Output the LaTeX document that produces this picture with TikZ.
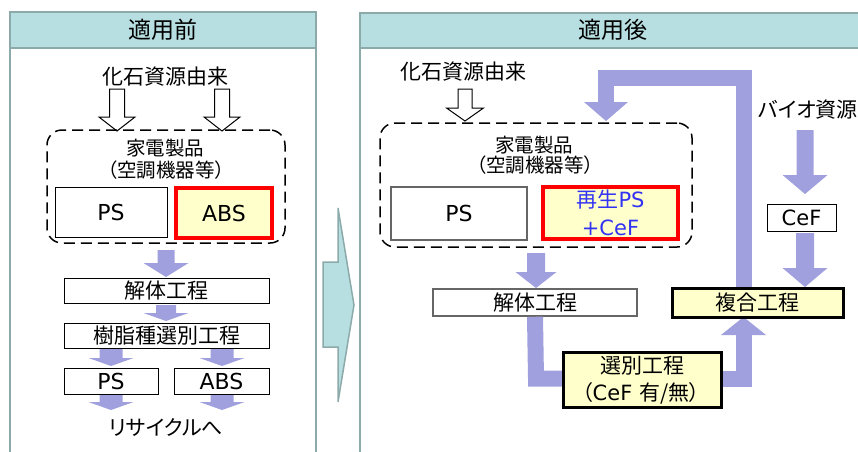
\documentclass[tikz,border=0pt]{standalone}
\usepackage{fontspec}
\setmainfont{DejaVu Sans}
\newfontfamily\jp[RawFeature={+palt}]{Noto Sans CJK JP}
\definecolor{hdr}{RGB}{183,222,224}
\definecolor{hdrline}{RGB}{140,170,170}
\definecolor{lav}{RGB}{160,160,222}
\definecolor{lyel}{RGB}{255,255,204}
\definecolor{txtblue}{RGB}{50,50,245}
\newcommand\blkarrow[7]{% style, x, ytop, ybase, ytip, halfshaft, halfhead
  \filldraw[#1] ({#2-#6},#3) -- ({#2+#6},#3) -- ({#2+#6},#4) -- ({#2+#7},#4) -- (#2,#5) -- ({#2-#7},#4) -- ({#2-#6},#4) -- cycle;}
\tikzset{
  jt/.style={font=\jp\fontsize{21}{24}\selectfont, inner sep=0pt},
  js/.style={font=\jp\fontsize{19.5}{22}\selectfont, inner sep=0pt},
  jh/.style={font=\jp\fontsize{23}{26}\selectfont, inner sep=0pt},
  lt/.style={font=\fontsize{21}{24}\selectfont, inner sep=0pt},
  plainbox/.style={draw=black, line width=1pt, fill=white, inner sep=0pt},
  graybox/.style={draw=black!60, line width=1.5pt, fill=white, inner sep=0pt},
  redbox/.style={draw=red, line width=3.5pt, fill=lyel, inner sep=0pt},
  thickbox/.style={draw=black, line width=3pt, fill=lyel, inner sep=0pt},
  dashbox/.style={draw=black, line width=1.5pt, dash pattern=on 11pt off 6pt, rounded corners=15pt, inner sep=0pt},
  panel/.style={draw=hdrline, line width=2.5pt, fill=white},
  hdrbox/.style={draw=hdrline, line width=2.5pt, fill=hdr},
  lavline/.style={draw=lav, line width=16pt, line join=miter},
  lavfill/.style={fill=lav, draw=none},
  hollow/.style={fill=white, draw=black, line width=1pt},
}
\begin{document}
\begin{tikzpicture}[x=1pt,y=-1pt]
\useasboundingbox (0,0) rectangle (858,451);
\clip (0,0) rectangle (858,451);

% ---------- panels ----------
\draw[panel] (10,12) rectangle (316,475);
\draw[hdrbox] (10,12) rectangle (316,48);
\node[jh] (hL) at (163,30) {適用前};
\draw[panel] (360,13) rectangle (880,475);
\draw[hdrbox] (360,13) rectangle (880,48);
\node[jh] (hR) at (613,30) {適用後};

% middle transition arrow
\filldraw[fill=hdr, draw=hdrline, line width=1.5pt]
  (323,262) -- (338,262) -- (338,208) -- (354,305) -- (338,402) -- (338,347) -- (323,347) -- cycle;

% ---------- left panel ----------
\node[jt] (fossL) at (165,77) {化石資源由来};
\blkarrow{hollow}{117}{89}{117}{131}{7.5}{18}
\blkarrow{hollow}{222}{89}{117}{131}{7.5}{18}
\node[dashbox, minimum width=238pt, minimum height=113pt] (dashL) at (166,186.5) {};
\node[js] (kadenL) at (165,148) {家電製品};
\node[js] (kuchoL) at (166,170) {（空調機器等）};
\node[plainbox, minimum width=112pt, minimum height=50pt, font=\fontsize{22}{24}\selectfont] (psL) at (111,212) {PS};
\node[redbox, minimum width=96pt, minimum height=50pt, font=\fontsize{22}{24}\selectfont] (absL) at (224,213) {ABS};

\blkarrow{lavfill}{166}{250}{263}{277}{8.5}{22.5}
\node[plainbox, minimum width=205pt, minimum height=25pt, jt] (kaitaiL) at (166.5,290.5) {解体工程};
\blkarrow{lavfill}{166}{305}{313}{321}{10}{22.5}
\node[plainbox, minimum width=205pt, minimum height=25pt, jt] (jushiL) at (166.5,335.5) {樹脂種選別工程};
\blkarrow{lavfill}{111}{349}{358}{366}{11.5}{22.5}
\blkarrow{lavfill}{222}{349}{358}{366}{11.5}{22.5}
\node[plainbox, minimum width=94pt, minimum height=26pt, font=\fontsize{22}{24}\selectfont] (psL2) at (111,381) {PS};
\node[plainbox, minimum width=95pt, minimum height=26pt, font=\fontsize{22}{24}\selectfont] (absL2) at (221.5,381) {ABS};
\blkarrow{lavfill}{111}{395}{402}{410}{11.5}{22.5}
\blkarrow{lavfill}{222}{395}{402}{410}{11.5}{22.5}
\node[jt] (recyc) at (166,427) {リサイクルへ};

% ---------- right panel ----------
\node[jt] (fossR) at (463,72) {化石資源由来};
\blkarrow{hollow}{465}{89}{108}{121}{7}{18.5}

% loop arrow from 複合工程 back to 家電製品
\coordinate (loopin) at (606,103);
\draw[lavline] (744,289) -- (744,78) -- (606,78) -- (loopin);
\fill[lav] (584,102) -- (628,102) -- (606,121) -- cycle;

\node[dashbox, minimum width=312pt, minimum height=124pt] (dashR) at (536,185) {};
\node[js] (kadenR) at (534,145) {家電製品};
\node[js] (kuchoR) at (535,165) {（空調機器等）};
\node[graybox, minimum width=136pt, minimum height=53pt, font=\fontsize{22}{24}\selectfont] (psR) at (459,213.5) {PS};
\node[redbox, minimum width=135pt, minimum height=52pt] (saisei) at (610.5,213) {};
\node[inner sep=0pt, text=txtblue, font=\fontsize{21}{24}\selectfont] (sai1) at (610.5,200) {{\jp 再生}PS};
\node[inner sep=0pt, text=txtblue, font=\fontsize{21}{24}\selectfont] (sai2) at (610.5,228) {+CeF};

\node[jt] (bio) at (808,110) {バイオ資源};
\blkarrow{lavfill}{805}{130}{175}{194}{8.5}{22.5}
\node[plainbox, minimum width=69pt, minimum height=27pt, font=\fontsize{21}{24}\selectfont] (cef) at (801.5,217.5) {CeF};
\blkarrow{lavfill}{805}{233}{268}{287}{9}{22.5}

\blkarrow{lavfill}{536}{253}{272}{288}{9}{20.5}
\node[graybox, minimum width=204pt, minimum height=27pt, jt] (kaitaiR) at (535,302.5) {解体工程};

% L connectors around 選別工程
\draw[lavline] (kaitaiR.south) -- (536,378.5) -- (565,378.5);
\draw[lavline] (719,378.5) -- (743.5,378.5) -- (743.5,334);
\fill[lav] (721,335) -- (766,335) -- (743.5,317) -- cycle;

\node[thickbox, minimum width=158pt, minimum height=55pt] (senbetsu) at (642,379.5) {};
\node[jt] (sen1) at (642,366) {選別工程};
\node[inner sep=0pt, font=\fontsize{21}{24}\selectfont] (sen2) at (641,393) {{\jp （}CeF {\jp 有/無）}};

\node[thickbox, minimum width=171pt, minimum height=29pt, jt] (fukugo) at (757.5,302.5) {複合工程};
\end{tikzpicture}
\end{document}
